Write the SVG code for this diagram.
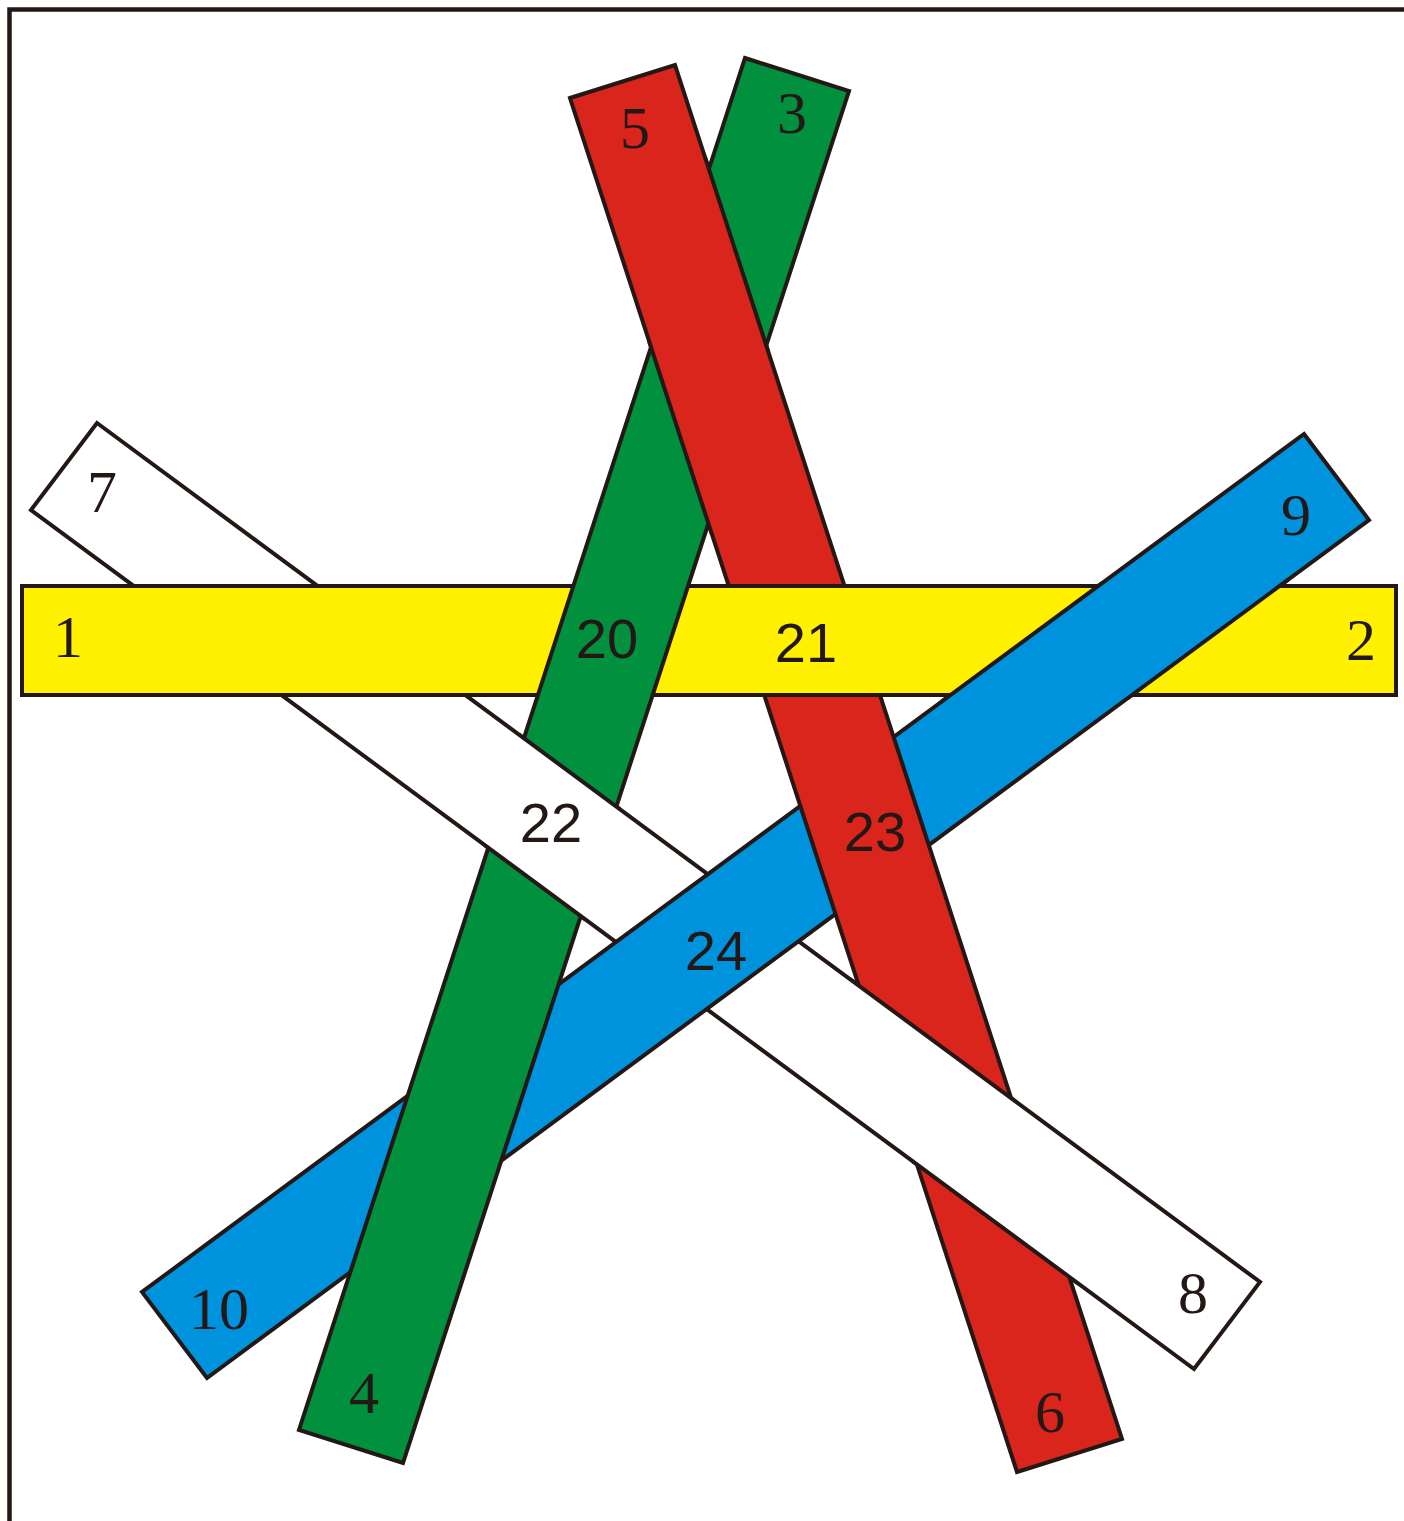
<svg xmlns="http://www.w3.org/2000/svg" xmlns:xlink="http://www.w3.org/1999/xlink" width="1404" height="1521" viewBox="0 0 1404 1521">
<style>
.stk{stroke:#231815;stroke-width:4;stroke-linejoin:miter}
.yel{fill:#FFF100}
.grn{fill:#00903E}
.red{fill:#DA251C}
.wht{fill:#FFFFFF}
.blu{fill:#0093DD}
.num{font-family:"Liberation Serif","Times New Roman",serif;font-size:60px;fill:#231815;text-anchor:middle}
.lbl{font-family:"Liberation Sans",Arial,sans-serif;font-size:56px;fill:#231815;text-anchor:middle}
</style>
<defs>
<polygon id="p-yellow" points="22,586 1396,586 1396,695 22,695"/>
<polygon id="p-green" points="745,58 849,91 403,1463 299,1430"/>
<polygon id="p-red" points="570,98 675,65 1122,1439 1017,1472"/>
<polygon id="p-white" points="97,423 1260,1282 1194,1369 31,510"/>
<polygon id="p-blue" points="1304,434 1369,520 207,1378 142,1292"/>
<mask id="m-green" maskUnits="userSpaceOnUse" x="0" y="0" width="1404" height="1521"><use href="#p-green" fill="#fff" stroke="#fff" stroke-width="10"/></mask>
<mask id="m-red" maskUnits="userSpaceOnUse" x="0" y="0" width="1404" height="1521"><use href="#p-red" fill="#fff" stroke="#fff" stroke-width="10"/></mask>
<mask id="m-yellow" maskUnits="userSpaceOnUse" x="0" y="0" width="1404" height="1521"><use href="#p-yellow" fill="#fff" stroke="#fff" stroke-width="10"/></mask>
</defs>
<rect x="0" y="0" width="1404" height="1521" fill="#FFFFFF"/>
<path d="M9.5 1521 V9.5 H1404" fill="none" stroke="#231815" stroke-width="4.5"/>
<g id="stick-white"><use href="#p-white" class="stk wht"/></g>
<g id="stick-blue"><use href="#p-blue" class="stk blu"/></g>
<g id="stick-yellow"><use href="#p-yellow" class="stk yel"/></g>
<g id="stick-red"><use href="#p-red" class="stk red"/></g>
<g id="stick-green"><use href="#p-green" class="stk grn"/></g>
<g id="crossings">
<use href="#p-red" class="stk red" mask="url(#m-green)"/>
<use href="#p-yellow" class="stk yel" mask="url(#m-red)"/>
<use href="#p-blue" class="stk blu" mask="url(#m-yellow)"/>
<use href="#p-white" class="stk wht" mask="url(#m-green)"/>
<use href="#p-white" class="stk wht" mask="url(#m-red)"/>
</g>
<g id="labels">
<text class="num" x="68" y="657">1</text>
<text class="num" x="1361" y="660">2</text>
<text class="num" x="792" y="133">3</text>
<text class="num" x="364" y="1413">4</text>
<text class="num" x="635" y="148">5</text>
<text class="num" x="1050" y="1432">6</text>
<text class="num" x="102" y="512">7</text>
<text class="num" x="1193" y="1313">8</text>
<text class="num" x="1296" y="535">9</text>
<text class="num" x="219" y="1329">10</text>
<text class="lbl" x="607" y="658">20</text>
<text class="lbl" x="806" y="662">21</text>
<text class="lbl" x="551" y="842">22</text>
<text class="lbl" x="875" y="851">23</text>
<text class="lbl" x="716" y="970">24</text>
</g>
</svg>
